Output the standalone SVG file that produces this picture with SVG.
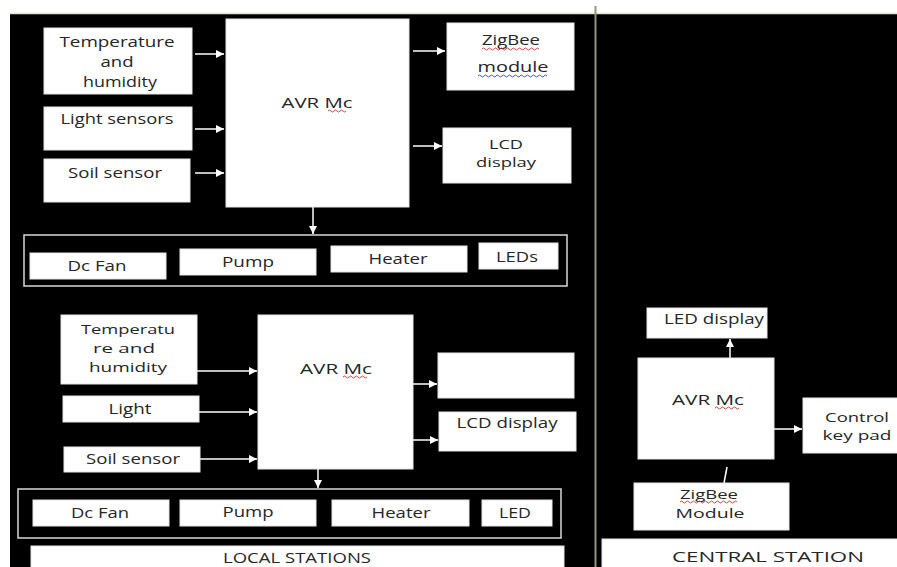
<svg xmlns="http://www.w3.org/2000/svg" width="897" height="567" viewBox="0 0 897 567">
<defs>
<style>
.box{fill:#ffffff;stroke:#e6e6e6;stroke-width:1}
.grp{fill:none;stroke:#d8d8d8;stroke-width:1.5}
.t{font-family:"Open Sans","Liberation Sans",sans-serif;font-size:15px;fill:#262626;text-anchor:middle}
.s{font-size:13.5px}
.c{stroke:#ffffff;stroke-width:1.5;fill:none}
.sq{fill:none;stroke:#d03030;stroke-width:0.9}
.sqb{fill:none;stroke:#3040c0;stroke-width:0.9}
</style>
<marker id="ah" markerWidth="8" markerHeight="8" refX="8" refY="4" orient="auto" markerUnits="userSpaceOnUse">
<path d="M0,0 L8,4 L0,8 z" fill="#ffffff"/>
</marker>
</defs>
<rect x="0" y="0" width="897" height="567" fill="#ffffff"/>
<rect x="10" y="13" width="887" height="554" fill="#000000"/>
<line x1="10" y1="13.5" x2="897" y2="13.5" stroke="#dfe9cf" stroke-width="1.5"/>
<line x1="595.5" y1="6" x2="595.5" y2="567" stroke="#8b9a7c" stroke-width="2"/>

<g id="connectors">
<line class="c" x1="195" y1="54" x2="224" y2="54" marker-end="url(#ah)"/>
<line class="c" x1="195" y1="129" x2="224" y2="129" marker-end="url(#ah)"/>
<line class="c" x1="195" y1="173" x2="224" y2="173" marker-end="url(#ah)"/>
<line class="c" x1="413" y1="51" x2="445" y2="51" marker-end="url(#ah)"/>
<line class="c" x1="413" y1="146" x2="442" y2="146" marker-end="url(#ah)"/>
<line class="c" x1="313" y1="207" x2="313" y2="234" marker-end="url(#ah)"/>
<line class="c" x1="197" y1="371" x2="257" y2="371" marker-end="url(#ah)"/>
<line class="c" x1="199" y1="412" x2="257" y2="412" marker-end="url(#ah)"/>
<line class="c" x1="200" y1="459" x2="257" y2="459" marker-end="url(#ah)"/>
<line class="c" x1="413" y1="384" x2="437" y2="384" marker-end="url(#ah)"/>
<line class="c" x1="412" y1="440" x2="438" y2="440" marker-end="url(#ah)"/>
<line class="c" x1="318" y1="469" x2="318" y2="488" marker-end="url(#ah)"/>
<line class="c" x1="730" y1="358" x2="730" y2="339" marker-end="url(#ah)"/>
<line class="c" x1="774" y1="429" x2="802" y2="429" marker-end="url(#ah)"/>
<line class="c" x1="727" y1="467" x2="724" y2="483"/>
</g>

<g id="local1">
<g id="temp1"><rect class="box" x="44" y="28" width="148" height="66"/>
<text class="t" x="117" y="47" textLength="115" lengthAdjust="spacingAndGlyphs">Temperature</text>
<text class="t" x="117" y="67" textLength="33" lengthAdjust="spacingAndGlyphs">and</text>
<text class="t" x="120" y="87" textLength="74" lengthAdjust="spacingAndGlyphs">humidity</text></g>
<g id="light1"><rect class="box" x="44" y="107" width="148" height="43"/>
<text class="t" x="117" y="124" textLength="113" lengthAdjust="spacingAndGlyphs">Light sensors</text></g>
<g id="soil1"><rect class="box" x="44" y="159" width="146" height="43"/>
<text class="t" x="115" y="178" textLength="94" lengthAdjust="spacingAndGlyphs">Soil sensor</text></g>
<g id="avr1"><rect class="box" x="226" y="19" width="183" height="188"/>
<text class="t" x="317" y="108" textLength="71" lengthAdjust="spacingAndGlyphs">AVR Mc</text>
<path class="sq" d="M328,111 q1.5,-2 3,0 t3,0 t3,0 t3,0 t3,0 t3,0"/></g>
<g id="zigbee1"><rect class="box" x="447" y="23" width="127" height="67"/>
<text class="t" x="511" y="45" textLength="58" lengthAdjust="spacingAndGlyphs">ZigBee</text>
<path class="sq" d="M482,49 q1.5,-2 3,0 t3,0 t3,0 t3,0 t3,0 t3,0 t3,0 t3,0 t3,0 t3,0 t3,0 t3,0 t3,0 t3,0 t3,0 t3,0 t3,0 t3,0 t3,0"/>
<text class="t" x="513" y="72" textLength="71" lengthAdjust="spacingAndGlyphs">module</text>
<path class="sqb" d="M478,76 q1.5,-2 3,0 t3,0 t3,0 t3,0 t3,0 t3,0 t3,0 t3,0 t3,0 t3,0 t3,0 t3,0 t3,0 t3,0 t3,0 t3,0 t3,0 t3,0 t3,0 t3,0 t3,0 t3,0 t3,0"/></g>
<g id="lcd1"><rect class="box" x="443" y="128" width="128" height="55"/>
<text class="t s" x="506" y="148.5" textLength="34" lengthAdjust="spacingAndGlyphs">LCD</text>
<text class="t s" x="506" y="167" textLength="60" lengthAdjust="spacingAndGlyphs">display</text></g>
<g id="act1"><rect class="grp" x="24" y="235" width="543" height="51"/>
<rect class="box" x="30" y="253" width="136" height="26"/>
<text class="t" x="97" y="271" textLength="59" lengthAdjust="spacingAndGlyphs">Dc Fan</text>
<rect class="box" x="180" y="249" width="136" height="26"/>
<text class="t" x="248" y="267" textLength="52" lengthAdjust="spacingAndGlyphs">Pump</text>
<rect class="box" x="331" y="246" width="136" height="26"/>
<text class="t" x="398" y="264" textLength="59" lengthAdjust="spacingAndGlyphs">Heater</text>
<rect class="box" x="479" y="243" width="79" height="26"/>
<text class="t" x="517" y="262" textLength="42" lengthAdjust="spacingAndGlyphs">LEDs</text></g>
</g>

<g id="local2">
<g id="temp2"><rect class="box" x="61" y="315" width="136" height="69"/>
<text class="t s" x="128" y="334" textLength="94" lengthAdjust="spacingAndGlyphs">Temperatu</text>
<text class="t s" x="124" y="353" textLength="62" lengthAdjust="spacingAndGlyphs">re and</text>
<text class="t s" x="128" y="372" textLength="78" lengthAdjust="spacingAndGlyphs">humidity</text></g>
<g id="light2"><rect class="box" x="63" y="396" width="136" height="26"/>
<text class="t" x="130" y="414" textLength="43" lengthAdjust="spacingAndGlyphs">Light</text></g>
<g id="soil2"><rect class="box" x="64" y="447" width="136" height="25"/>
<text class="t" x="133" y="464" textLength="94" lengthAdjust="spacingAndGlyphs">Soil sensor</text></g>
<g id="avr2"><rect class="box" x="258" y="315" width="155" height="154"/>
<text class="t" x="336" y="374" textLength="72" lengthAdjust="spacingAndGlyphs">AVR Mc</text>
<path class="sq" d="M343,377 q1.5,-2 3,0 t3,0 t3,0 t3,0 t3,0 t3,0 t3,0 t3,0"/></g>
<g id="empty2"><rect class="box" x="438" y="353" width="136" height="45"/></g>
<g id="lcd2"><rect class="box" x="439" y="412" width="137" height="39"/>
<text class="t" x="507" y="428" textLength="101" lengthAdjust="spacingAndGlyphs">LCD display</text></g>
<g id="act2"><rect class="grp" x="18" y="489" width="543" height="49"/>
<rect class="box" x="33" y="500" width="136" height="26"/>
<text class="t" x="100" y="518" textLength="58" lengthAdjust="spacingAndGlyphs">Dc Fan</text>
<rect class="box" x="180" y="500" width="136" height="26"/>
<text class="t" x="248" y="517" textLength="51" lengthAdjust="spacingAndGlyphs">Pump</text>
<rect class="box" x="332" y="500" width="137" height="26"/>
<text class="t" x="401" y="518" textLength="59" lengthAdjust="spacingAndGlyphs">Heater</text>
<rect class="box" x="482" y="500" width="70" height="26"/>
<text class="t" x="515" y="518" textLength="32" lengthAdjust="spacingAndGlyphs">LED</text></g>
<g id="local-label"><rect class="box" x="31" y="546" width="533" height="24"/>
<text class="t" x="297" y="563" textLength="148" lengthAdjust="spacingAndGlyphs">LOCAL STATIONS</text></g>
</g>

<g id="central">
<g id="leddisp"><rect class="box" x="647" y="308" width="120" height="30"/>
<text class="t" x="714" y="324" textLength="100" lengthAdjust="spacingAndGlyphs">LED display</text></g>
<g id="avr3"><rect class="box" x="638" y="358" width="136" height="101"/>
<text class="t" x="708" y="405" textLength="72" lengthAdjust="spacingAndGlyphs">AVR Mc</text>
<path class="sq" d="M715,408 q1.5,-2 3,0 t3,0 t3,0 t3,0 t3,0 t3,0 t3,0 t3,0"/></g>
<g id="keypad"><rect class="box" x="803" y="398" width="96" height="55"/>
<text class="t s" x="857" y="421.5" textLength="64" lengthAdjust="spacingAndGlyphs">Control</text>
<text class="t s" x="857" y="440" textLength="69" lengthAdjust="spacingAndGlyphs">key pad</text></g>
<g id="zigbee3"><rect class="box" x="634" y="483" width="155" height="47"/>
<text class="t s" x="709" y="499" textLength="58" lengthAdjust="spacingAndGlyphs">ZigBee</text>
<path class="sq" d="M680,502 q1.5,-2 3,0 t3,0 t3,0 t3,0 t3,0 t3,0 t3,0 t3,0 t3,0 t3,0 t3,0 t3,0 t3,0 t3,0 t3,0 t3,0 t3,0 t3,0 t3,0"/>
<text class="t s" x="710" y="517.5" textLength="69" lengthAdjust="spacingAndGlyphs">Module</text></g>
<g id="central-label"><rect class="box" x="602" y="539" width="297" height="30"/>
<text class="t" x="768" y="562" textLength="192" lengthAdjust="spacingAndGlyphs">CENTRAL STATION</text></g>
</g>
</svg>
